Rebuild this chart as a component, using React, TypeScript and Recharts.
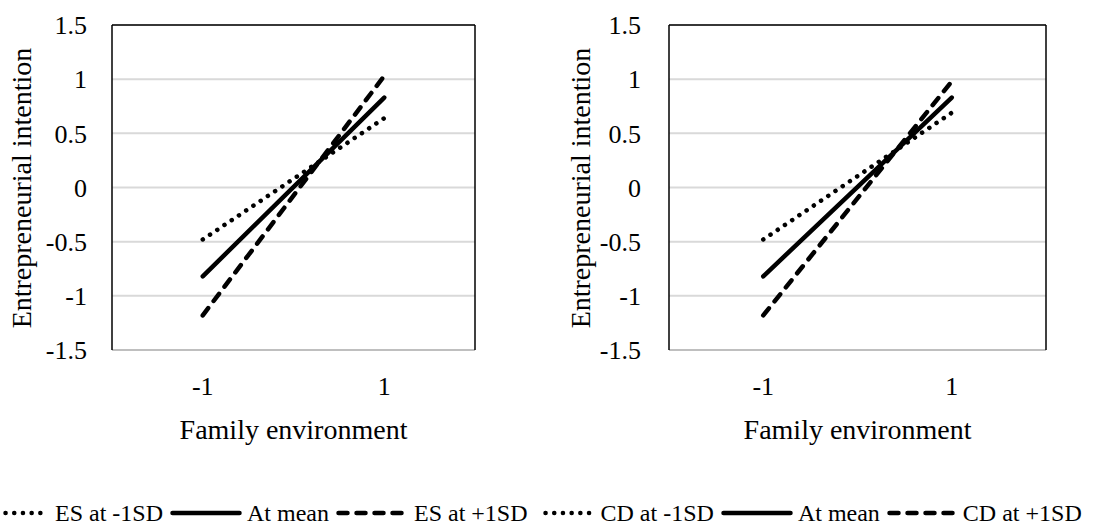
import React from 'react';
import {
  LineChart,
  Line,
  XAxis,
  YAxis,
  CartesianGrid,
  ReferenceLine,
} from 'recharts';

// moderator levels on the x axis
const xLevels = [-1, 1];

// left panel: entrepreneurial support (ES)
const esLow = [-0.48, 0.64];
const esMean = [-0.82, 0.83];
const esHigh = [-1.18, 1.03];

// right panel: cultural dimension (CD)
const cdLow = [-0.48, 0.69];
const cdMean = [-0.82, 0.83];
const cdHigh = [-1.18, 0.98];

const yTicks = [-1.5, -1, -0.5, 0, 0.5, 1, 1.5];
const xTitle = 'Family environment';
const yTitle = 'Entrepreneurial intention';

const legendNames = ['ES at -1SD', 'At mean', 'ES at +1SD', 'CD at -1SD', 'At mean', 'CD at +1SD'];

const FONT = 'Liberation Serif';

const lineStyles: Record<string, any> = {
  low: { strokeDasharray: '0.1 8.6', strokeLinecap: 'round', strokeWidth: 4.5 },
  mean: { strokeWidth: 4.5, strokeLinecap: 'round' },
  high: { strokeDasharray: '9 9', strokeLinecap: 'round', strokeWidth: 4.5 },
};

const makeRows = (low: number[], mean: number[], high: number[]) =>
  xLevels.map((x, i) => ({ x, low: low[i], mean: mean[i], high: high[i] }));

type PanelProps = {
  rows: any[];
  left: number;
  width: number;
  axisWidth: number;
  rightMargin: number;
  tickGap: number;
  yTitleX: number;
};

function Panel({ rows, left, width, axisWidth, rightMargin, tickGap, yTitleX }: PanelProps) {
  const tickStyle = { fontFamily: FONT, fontSize: 26, fill: '#000' };
  const plotCenter = axisWidth + (width - axisWidth - rightMargin) / 2;
  return (
    <div style={{ position: 'absolute', left, top: 0, width, height: 470 }}>
      <LineChart width={width} height={470} data={rows} margin={{ top: 25, right: rightMargin, bottom: 0, left: 0 }}>
        <CartesianGrid vertical={false} stroke="#d9d9d9" strokeWidth={2} />
        <XAxis
          dataKey="x"
          type="number"
          domain={[-2, 2]}
          ticks={xLevels}
          height={120}
          axisLine={false}
          tickLine={false}
          tickSize={0}
          tickMargin={27}
          tick={tickStyle}
        />
        <YAxis
          type="number"
          domain={[-1.5, 1.5]}
          ticks={yTicks}
          width={axisWidth}
          axisLine={false}
          tickLine={false}
          tickSize={0}
          tickMargin={tickGap}
          tick={tickStyle}
        />
        <ReferenceLine y={-1.5} stroke="#bfbfbf" strokeWidth={2} />
        <ReferenceLine y={1.5} stroke="#000" strokeWidth={1.5} />
        <ReferenceLine x={-2} stroke="#000" strokeWidth={1.5} />
        <ReferenceLine x={2} stroke="#000" strokeWidth={1.5} />
        {(['low', 'mean', 'high'] as const).map((k) => (
          <Line
            key={k}
            dataKey={k}
            type="linear"
            stroke="#000"
            dot={false}
            activeDot={false}
            isAnimationActive={false}
            {...lineStyles[k]}
          />
        ))}
      </LineChart>
      <div
        style={{
          position: 'absolute',
          left: yTitleX,
          top: 188,
          transform: 'translate(-50%, -50%) rotate(-90deg)',
          whiteSpace: 'nowrap',
          fontFamily: FONT,
          fontSize: 28,
          lineHeight: 1,
        }}
      >
        {yTitle}
      </div>
      <div
        style={{
          position: 'absolute',
          left: plotCenter,
          top: 430,
          transform: 'translate(-50%, -50%)',
          whiteSpace: 'nowrap',
          fontFamily: FONT,
          fontSize: 28,
          lineHeight: 1,
        }}
      >
        {xTitle}
      </div>
    </div>
  );
}

const legendKinds = ['low', 'mean', 'high', 'low', 'mean', 'high'];
const iconWidths = [47, 72, 73, 53, 72, 71];

function LegendRow() {
  return (
    <div
      style={{
        position: 'absolute',
        left: 3,
        top: 498,
        height: 30,
        display: 'flex',
        alignItems: 'center',
        whiteSpace: 'nowrap',
        color: '#000',
      }}
    >
      {legendNames.map((name, i) => {
        const w = iconWidths[i];
        const st = lineStyles[legendKinds[i]];
        return (
          <div key={i} style={{ display: 'flex', alignItems: 'center', marginRight: i === 2 ? 15 : 7 }}>
            <svg width={w} height={10} style={{ marginRight: 5 }}>
              <line x1={2.5} y1={5} x2={w - 2.5} y2={5} stroke="#000" {...st} />
            </svg>
            <div style={{ fontFamily: FONT, fontSize: 24 }}>{name}</div>
          </div>
        );
      })}
    </div>
  );
}

export default function App() {
  return (
    <div style={{ position: 'absolute', left: 0, top: 0, width: 1103, height: 527, background: '#fff', overflow: 'hidden' }}>
      <Panel rows={makeRows(esLow, esMean, esHigh)} left={0} width={550} axisWidth={112} rightMargin={75} tickGap={25} yTitleX={22} />
      <Panel rows={makeRows(cdLow, cdMean, cdHigh)} left={550} width={553} axisWidth={119} rightMargin={57} tickGap={28} yTitleX={31} />
      <LegendRow />
    </div>
  );
}
